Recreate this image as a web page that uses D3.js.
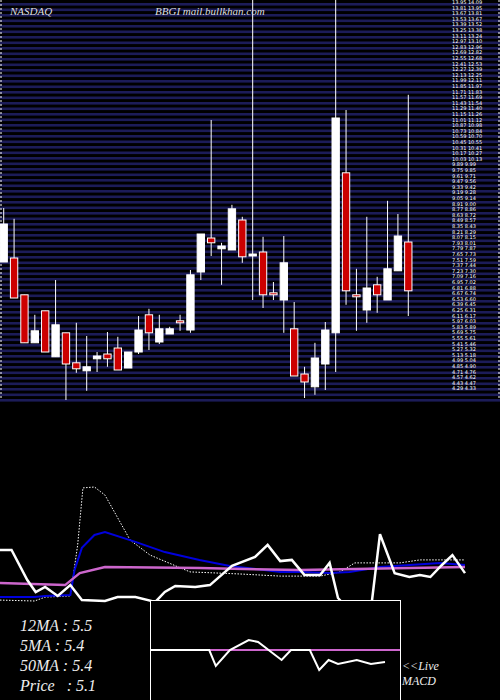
<!DOCTYPE html>
<html><head><meta charset="utf-8">
<script src="https://cdn.jsdelivr.net/npm/d3@7"></script>
<style>body{margin:0;background:#000}svg{display:block}</style>
</head><body>
<svg width="500" height="700"></svg>
<script>
// candle data (open, close, high, low)
var opens  = [7.45,7.55,6.63,5.43,6.23,5.08,5.68,4.93,4.73,5.03,5.15,5.3,4.8,5.2,6.13,5.45,5.65,5.98,5.75,7.2,8.05,7.78,7.75,8.5,7.6,7.7,6.68,6.5,5.78,4.65,4.33,4.9,5.68,9.68,6.63,6.25,6.88,6.5,7.23,7.95];
var closes = [8.4,6.55,5.43,5.73,5.2,5.88,4.9,4.78,4.83,5.1,5.03,4.75,5.2,5.75,5.68,5.78,5.78,5.93,7.13,8.15,7.93,7.85,8.78,7.58,7.65,6.63,6.63,7.43,4.6,4.45,5.05,5.75,11.05,6.73,6.58,6.8,6.63,7.28,8.1,6.73];
var highs  = [8.8,8.53,6.63,6.13,6.23,7.0,5.68,5.93,5.6,5.2,5.7,5.58,5.2,6.1,6.28,6.13,5.83,6.13,7.25,8.15,11.0,7.93,8.88,8.58,14,8.08,6.95,8.1,6.45,4.83,5.43,5.95,14,11.25,7.28,8.58,7.08,8.98,8.65,11.63];
var lows   = [7.45,6.55,5.43,5.43,5.2,5.08,4.0,4.68,4.23,4.7,4.83,4.75,4.8,5.15,5.25,5.4,5.65,5.73,5.68,7.0,7.6,6.88,7.75,7.43,6.5,6.3,6.5,5.68,4.6,4.05,4.13,4.25,4.7,6.38,5.73,5.93,6.18,6.5,7.23,6.1];

// indicator lines (x in bar index units 0..44, y in indicator units 0..100)
var rsiX = [0,1.1,2.6,3.4,4.3,5.5,6.7,7.8,10,11.2,12.9,14.8,15.7,16.7,18.6,20,22.1,24.3,25.5,26.7,27.8,29,30.5,31.4,32.2,33.8,35.4,36.2,37.6,39,40,41,42.1,43.1,44.3];
var rsiY = [50,50,40,36,37.7,34.7,38.3,33.3,33,34.3,34.3,32.7,36,38,37.7,38.3,44.7,47.7,51.7,46.3,46.7,41.7,41.7,45.7,34,28,32,55.3,42.3,41,41.7,41,45,48.3,42.3];
var blueX = [0,3.3,4.3,6.7,7.1,7.8,9,10,12.9,15.7,19,21.9,26.7,28.6,31.4,33.3,36.2,41.9,44.3];
var blueY = [34.3,34.3,34.7,35,43.3,50.7,55,56,52.7,49.3,46.7,44.7,42.7,42.7,42.3,42.7,44.3,45.7,45];
var pinkX = [0,6.2,7.6,10,19,28.6,44.3];
var pinkY = [39,38.3,42.3,44.3,44,43.3,44.3];
var dotX = [0,3.3,4.3,6.7,7.4,7.9,9,10,12.4,14.3,18.1,22.9,26.7,30.5,32.4,33.8,38.1,40,41.9,44.3];
var dotY = [33.3,33,34.3,34.7,51.7,70.7,71,68.3,53.3,48.3,42.7,42,41.3,41.3,42.7,45.7,45.7,46.7,46.7,46.7];
var macdX = [0,6.3,7,8.5,10.5,11.5,14,15,17,18,19,20,22,23.5,25];
var macdY = [50,50,42,50,55,54,45,50,50,40,45,43,45,43,44];

var svg = d3.select("svg");
var W = 500, H = 700;

// price panel
var top0 = 0, bot0 = 400;
svg.append("rect").attr("width", W).attr("height", H).attr("fill", "#000");
for (var yy = 3; yy < bot0; yy += 5.5) {
    svg.append("rect").attr("x", 0).attr("y", yy).attr("width", W).attr("height", 2.6).attr("fill", "#1c1c58");
}
svg.append("line").attr("x1", 1).attr("x2", 1).attr("y1", 0).attr("y2", bot0)
    .attr("stroke", "#fff").attr("stroke-dasharray", "2,2");
svg.append("line").attr("x1", 499).attr("x2", 499).attr("y1", 0).attr("y2", bot0)
    .attr("stroke", "#fff").attr("stroke-dasharray", "2,2");

var x = d3.scaleBand().domain(d3.range(opens.length)).range([-2, 414]).padding(0.1);
var y = d3.scaleLinear().domain([14, 4]).range([top0, bot0]);

var candles = svg.append("g");
opens.forEach(function(o, i){
    var c = closes[i], cx = x(i) + x.bandwidth() / 2, up = c >= o;
    candles.append("line").attr("x1", cx).attr("x2", cx)
        .attr("y1", y(highs[i])).attr("y2", y(lows[i]))
        .attr("stroke", "#fff").attr("stroke-width", 1);
    candles.append("rect")
        .attr("x", x(i) + 1).attr("width", x.bandwidth() - 2)
        .attr("y", y(Math.max(o, c)))
        .attr("height", Math.max(2, Math.abs(y(o) - y(c))))
        .attr("fill", up ? "#fff" : "#cc0000")
        .attr("stroke", "#fff").attr("stroke-width", 1);
});

// right side tiny tick labels
var tickVals = d3.range(70).map(function(k){ return 13.95 - k * 0.14; });
svg.append("g").selectAll("text").data(tickVals).enter().append("text")
    .attr("x", 452).attr("y", function(d){ return y(d) + 2; })
    .attr("fill", "#fff").attr("font-size", 5).attr("font-family", "DejaVu Sans")
    .text(function(d){ return d.toFixed(2) + " " + (d * 1.01).toFixed(2); });

svg.append("text").attr("x", 10).attr("y", 15).text("NASDAQ")
    .attr("fill", "#ddd").attr("font-family", "Liberation Serif").attr("font-style", "italic").attr("font-size", 11);
svg.append("text").attr("x", 155).attr("y", 15).text("BBGI mail.bullkhan.com")
    .attr("fill", "#ddd").attr("font-family", "Liberation Serif").attr("font-style", "italic").attr("font-size", 11);

// indicator panel
var xi = d3.scaleLinear().domain([0, 44.3]).range([0, 465]);
var yi = d3.scaleLinear().domain([0, 100]).range([700, 400]);
var line = function(xs, ys, sx, sy){
    return d3.line().x(function(d){ return sx(d[0]); }).y(function(d){ return sy(d[1]); })(d3.zip(xs, ys));
};
svg.append("path").attr("d", line(dotX, dotY, xi, yi)).attr("fill", "none")
    .attr("stroke", "#fff").attr("stroke-width", 1).attr("stroke-dasharray", "1.5,1.5");
svg.append("path").attr("d", line(blueX, blueY, xi, yi)).attr("fill", "none")
    .attr("stroke", "#0000dd").attr("stroke-width", 2);
svg.append("path").attr("d", line(pinkX, pinkY, xi, yi)).attr("fill", "none")
    .attr("stroke", "#cc66cc").attr("stroke-width", 2.5);
svg.append("path").attr("d", line(rsiX, rsiY, xi, yi)).attr("fill", "none")
    .attr("stroke", "#fff").attr("stroke-width", 2.5);

// macd box
var bx = d3.scaleLinear().domain([0, 25]).range([150, 385]);
var by = d3.scaleLinear().domain([0, 100]).range([750, 550]);
svg.append("rect").attr("x", 150.5).attr("y", 600.5).attr("width", 250).attr("height", 110)
    .attr("fill", "#000").attr("stroke", "#fff");
svg.append("line").attr("x1", 151).attr("x2", 400).attr("y1", by(50)).attr("y2", by(50))
    .attr("stroke", "#cc66cc").attr("stroke-width", 2);
svg.append("path").attr("d", line(macdX, macdY, bx, by)).attr("fill", "none")
    .attr("stroke", "#fff").attr("stroke-width", 2);

var labels = ["12MA : 5.5", "5MA : 5.4", "50MA : 5.4", "Price   : 5.1"];
svg.append("g").selectAll("text").data(labels).enter().append("text")
    .attr("x", 20).attr("y", function(d, i){ return 631 + i * 20; })
    .attr("fill", "#eee").attr("font-family", "Liberation Serif").attr("font-style", "italic")
    .attr("font-size", 16).attr("xml:space", "preserve").style("white-space", "pre").text(function(d){ return d; });
svg.append("text").attr("x", 402).attr("y", 670).text("<<Live")
    .attr("fill", "#eee").attr("font-family", "Liberation Serif").attr("font-style", "italic").attr("font-size", 12);
svg.append("text").attr("x", 402).attr("y", 685).text("MACD")
    .attr("fill", "#eee").attr("font-family", "Liberation Serif").attr("font-style", "italic").attr("font-size", 12);
</script>
</body></html>
